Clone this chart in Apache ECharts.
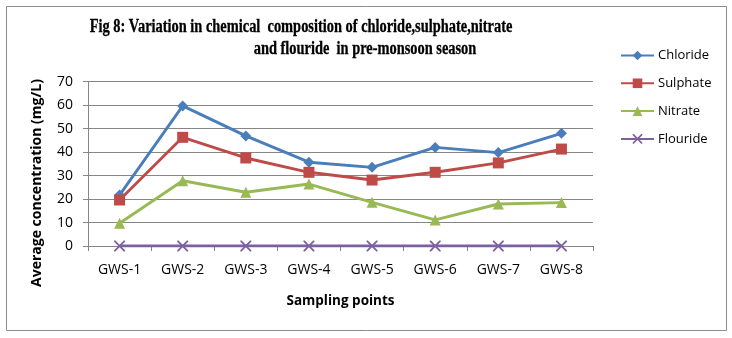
<!DOCTYPE html>
<html><head><meta charset="utf-8">
<script src="https://cdn.jsdelivr.net/npm/echarts@6/dist/echarts.min.js"></script>
<style>html,body{margin:0;padding:0;background:#fff}#c{width:732px;height:338px}</style>
</head><body><div id="c"></div>
<script>
const categories = ['GWS-1','GWS-2','GWS-3','GWS-4','GWS-5','GWS-6','GWS-7','GWS-8'];
const chloride = [21.7, 59.7, 46.9, 35.7, 33.5, 42.0, 39.8, 48.0];
const sulphate = [19.6, 46.3, 37.5, 31.4, 28.1, 31.4, 35.4, 41.3];
const nitrate  = [9.7, 27.8, 22.9, 26.4, 18.6, 11.1, 17.9, 18.5];
const flouride = [0, 0, 0, 0, 0, 0, 0, 0];
const seriesNames = ['Chloride','Sulphate','Nitrate','Flouride'];
const titleLine1 = 'Fig 8: Variation in chemical  composition of chloride,sulphate,nitrate';
const titleLine2 = 'and flouride  in pre-monsoon season';
const xAxisName = 'Sampling points';
const yAxisName = 'Average concentration (mg/L)';

const crossPath = 'path://M0,0L1.2,0L5,3.8L8.8,0L10,0L10,1.2L6.2,5L10,8.8L10,10L8.8,10L5,6.2L1.2,10L0,10L0,8.8L3.8,5L0,1.2Z';
const font = 'Open Sans';
const chart = echarts.init(document.getElementById('c'));
function mk(name, data, color, symbol, size) {
  return {
    name, type: 'line', data, symbol, symbolSize: size,
    lineStyle: { color, width: 2.9 },
    itemStyle: { color },
    emphasis: { disabled: true }
  };
}
chart.setOption({
  animation: false,
  backgroundColor: '#fff',
  graphic: [
    { type: 'rect', shape: { x: 6.5, y: 6.5, width: 720, height: 324 }, style: { fill: 'none', stroke: '#8c8c8c', lineWidth: 1 } },
    { type: 'text', x: 301, y: 27, scaleX: 0.80, style: { text: titleLine1, font: 'bold 18px "Liberation Serif"', fill: '#000', stroke: '#000', lineWidth: 0.3, textAlign: 'center', textVerticalAlign: 'middle' } },
    { type: 'text', x: 365, y: 49, scaleX: 0.80, style: { text: titleLine2, font: 'bold 18px "Liberation Serif"', fill: '#000', stroke: '#000', lineWidth: 0.3, textAlign: 'center', textVerticalAlign: 'middle' } },
    { type: 'text', x: 37, y: 183, rotation: Math.PI / 2, style: { text: yAxisName, font: 'bold 14px "Open Sans"', fill: '#000', textAlign: 'center', textVerticalAlign: 'middle' } }
  ],
  legend: {
    orient: 'vertical', left: 615, top: 44, itemGap: 14.8, itemWidth: 33, itemHeight: 12,
    data: seriesNames,
    textStyle: { fontFamily: font, fontSize: 13, color: '#000', padding: [0, 0, 0, -1] }
  },
  grid: { left: 88, right: 139, top: 81.7, bottom: 92 },
  xAxis: {
    type: 'category', data: categories, boundaryGap: true,
    name: xAxisName, nameLocation: 'middle', nameGap: 48,
    nameTextStyle: { fontFamily: font, fontSize: 13.5, fontWeight: 'bold', color: '#000' },
    axisLine: { lineStyle: { color: '#868686', width: 1 } },
    axisTick: { show: true, length: 5, lineStyle: { color: '#868686' } },
    axisLabel: { fontFamily: font, fontSize: 14, color: '#000', margin: 17 }
  },
  yAxis: {
    type: 'value', min: 0, max: 70, interval: 10,
    axisLine: { show: true, lineStyle: { color: '#868686', width: 1 } },
    axisTick: { show: true, length: 5, lineStyle: { color: '#868686' } },
    splitLine: { lineStyle: { color: '#868686', width: 1 } },
    axisLabel: { fontFamily: font, fontSize: 14, color: '#000', margin: 15 }
  },
  series: [
    mk('Chloride', chloride, '#4a7ebb', 'diamond', 11),
    mk('Sulphate', sulphate, '#be4b48', 'rect', 11),
    mk('Nitrate', nitrate, '#98b954', 'triangle', 11),
    mk('Flouride', flouride, '#7d60a0', crossPath, 11)
  ]
});
</script></body></html>
